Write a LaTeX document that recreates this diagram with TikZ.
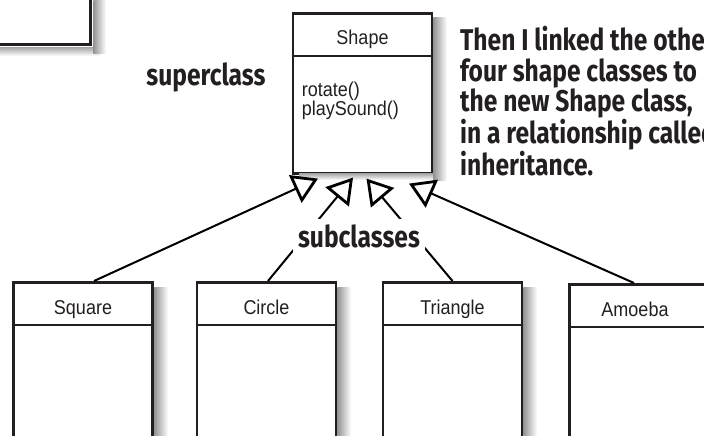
\documentclass[tikz,border=0pt]{standalone}
\usepackage{fontspec}
\setmainfont{Liberation Sans}[FakeStretch=0.9]
\newfontfamily\handfont[FakeStretch=0.82]{Fira Sans}
\usetikzlibrary{positioning, arrows.meta}
\definecolor{inkgray}{HTML}{231F20}

\begin{document}
\begin{tikzpicture}[
    x=1pt, y=-1pt,
    every node/.style={font=\fontsize{20}{19}\selectfont, text=inkgray},
    classbox/.style={draw=inkgray, line width=2.6pt, fill=white, anchor=north,
                     minimum width=139pt, minimum height=200pt},
    divider/.style={draw=inkgray, line width=2.6pt},
    sideshadow/.style={left color=black!42, right color=white},
    baseshadow/.style={top color=black!35, bottom color=white},
    hand/.style={font=\handfont\bfseries\fontsize{30}{30.7}\selectfont},
    isa/.style={draw=black, line width=2pt,
                -{Triangle[length=25pt, width=30pt, fill=white, line width=2.8pt]}},
  ]
  \useasboundingbox (0,0) rectangle (704,436);

  % the class boxes
  \node[classbox, anchor=south east, minimum width=200pt,
        minimum height=100pt]                   (prev)   at (92,46)   {};
  \node[classbox, minimum height=160pt]         (shape)  at (362.5,12) {};
  \node[classbox]                               (square) at (83,281)  {};
  \node[classbox]                               (circle) at (266.5,281) {};
  \node[classbox]                               (tri)    at (452.5,281) {};
  \node[classbox]                               (amoeba) at (639,283) {};

  % soft shadows
  \shade[baseshadow] (0,47.3)    rectangle (100,56);
  \shade[sideshadow] (93.3,0)    rectangle (106,54);
  \shade[baseshadow] (299,173.3) rectangle (440,180);
  \shade[sideshadow] (433.3,18)  rectangle (447,180);
  \shade[sideshadow] (154.3,287) rectangle (168,440);
  \shade[sideshadow] (337.3,287) rectangle (351,440);
  \shade[sideshadow] (523.3,287) rectangle (537,440);

  % names and dividers
  \node[anchor=base] (shapename)  at ([yshift=-33pt]shape.north)  {Shape};
  \node[anchor=base] (squarename) at ([yshift=-33pt]square.north) {Square};
  \node[anchor=base] (circlename) at ([yshift=-33pt]circle.north) {Circle};
  \node[anchor=base] (triname)    at ([yshift=-33pt]tri.north)    {Triangle};
  \node[anchor=base] (amoebaname) at ([yshift=-33pt,xshift=-4pt]amoeba.north) {Amoeba};
  \foreach \c in {shape, square, circle, tri, amoeba}
    \draw[divider] ([yshift=-44pt]\c.north west) -- ([yshift=-44pt]\c.north east);

  \node[anchor=north west, align=left, inner sep=0pt] (ops)
    at ([xshift=10pt, yshift=-70pt]shape.north west) {rotate()\\playSound()};

  % inheritance links
  \draw[isa] ([xshift=11pt]square.north)   -- ([xshift=-44.5pt, yshift=-4pt]shape.south);
  \draw[isa] ([xshift=1.5pt]circle.north)  -- ([xshift=-9.5pt, yshift=-3pt]shape.south);
  \draw[isa] (tri.north)                   -- ([xshift=4pt, yshift=-4pt]shape.south);
  \draw[isa] ([xshift=-5pt]amoeba.north)   -- ([xshift=46.5pt, yshift=-9pt]shape.south);

  % hand written notes
  \node[hand, anchor=base] (super) at (206,85) {superclass};
  \node[hand, anchor=base, fill=white, inner sep=5pt] (sub) at (359,247) {subclasses};
  \node[hand, align=left, anchor=north west, inner sep=0pt] (note) at (460,26)
    {Then I linked the other\\four shape classes to\\the new Shape class,\\in a relationship called\\inheritance.};
\end{tikzpicture}
\end{document}
